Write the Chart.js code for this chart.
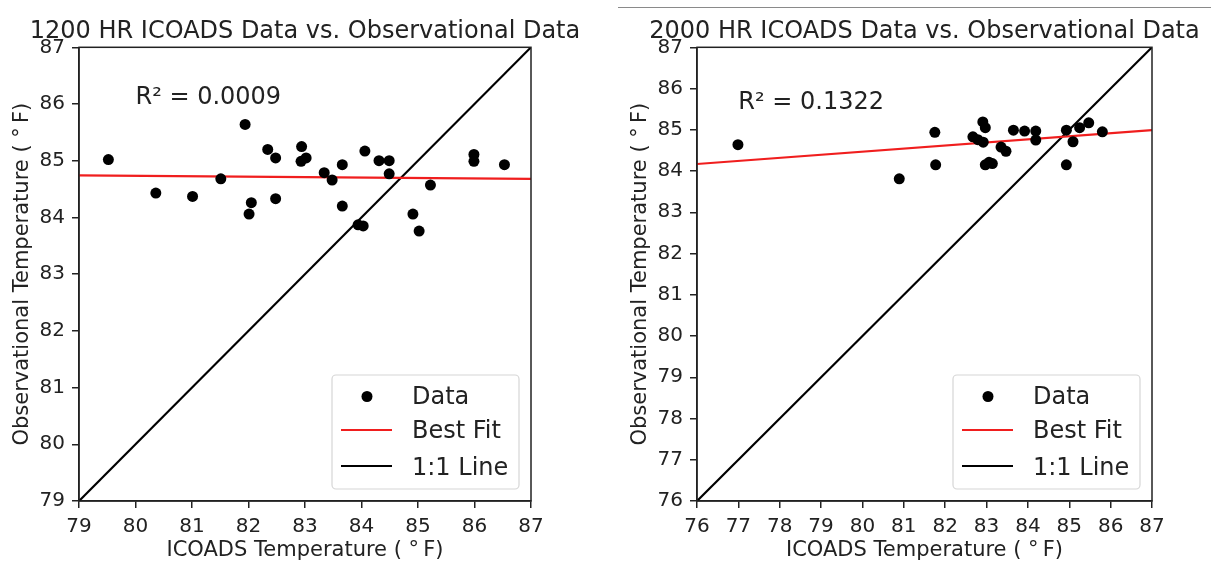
<!DOCTYPE html>
<html>
<head>
<meta charset="utf-8">
<script src="https://cdn.jsdelivr.net/npm/chart.js@4.4.0/dist/chart.umd.min.js"></script>
<style>
  body { margin: 0; width: 1211px; height: 573px; background: #fff; position: relative; overflow: hidden; }
  .panel { position: absolute; top: 0; height: 573px; }
  #left { left: 0; width: 610px; }
  #right { left: 610px; width: 601px; }
  .rule { position: absolute; left: 618px; top: 7px; width: 593px; border-top: 1.5px solid #8a8a8a; }
</style>
</head>
<body>
<div class="rule"></div>
<div class="panel" id="left"><canvas id="c1" width="610" height="573"></canvas></div>
<div class="panel" id="right"><canvas id="c2" width="601" height="573"></canvas></div>
<script>
// 1200 HR panel
const noonIcoads = [79.52, 80.36, 81.01, 81.51, 81.94, 82.01, 82.05, 82.34, 82.48, 82.48,
                    82.94, 82.93, 83.02, 83.34, 83.48, 83.66, 83.66, 84.06, 83.94, 84.03,
                    84.31, 84.49, 84.49, 84.91, 85.02, 85.22, 85.99, 85.99, 86.53];
const noonObs    = [85.02, 84.43, 84.37, 84.68, 85.64, 84.06, 84.26, 85.20, 85.05, 84.33,
                    85.25, 84.99, 85.05, 84.79, 84.66, 84.93, 84.20, 85.17, 83.87, 83.85,
                    85.00, 85.00, 84.77, 84.06, 83.76, 84.57, 85.11, 84.99, 84.93];
const noonFitX = [79, 87];
const noonFitY = [84.74, 84.68];
const noonR2 = 'R² = 0.0009';

// 2000 HR panel
const eveIcoads = [76.99, 80.89, 81.75, 81.77, 82.67, 82.79, 82.91, 82.97, 82.92, 82.97,
                   83.06, 83.14, 83.35, 83.47, 83.65, 83.92, 84.19, 84.19, 84.93, 84.93,
                   85.09, 85.25, 85.47, 85.80];
const eveObs    = [84.64, 83.81, 84.94, 84.15, 84.83, 84.76, 85.19, 85.05, 84.70, 84.15,
                   84.21, 84.18, 84.58, 84.48, 84.99, 84.97, 84.97, 84.75, 84.99, 84.15,
                   84.71, 85.05, 85.17, 84.95];
const eveFitX = [76, 87];
const eveFitY = [84.17, 84.99];
const eveR2 = 'R² = 0.1322';

const seriesNames = ['Data', 'Best Fit', '1:1 Line'];
const xTitle = 'ICOADS Temperature ( °\u2009F)';
const yTitle = 'Observational Temperature ( °\u2009F)';

const FONT = 'DejaVu Sans';
const INK = '#222';
Chart.defaults.font.family = FONT;
Chart.defaults.color = INK;

const zip = (xs, ys) => xs.map((x, i) => ({x: x, y: ys[i]}));

// box around the axes (matplotlib style spines)
const framePlugin = {
  id: 'frame',
  afterDraw(chart) {
    const a = chart.chartArea, ctx = chart.ctx;
    ctx.save();
    ctx.strokeStyle = INK;
    ctx.lineWidth = 1.5;
    ctx.strokeRect(a.left, a.top, a.right - a.left, a.bottom - a.top);
    ctx.restore();
  }
};

// title centred over the axes, R² note placed in data coordinates
const notePlugin = {
  id: 'note',
  afterDatasetsDraw(chart, args, opts) {
    const ctx = chart.ctx, a = chart.chartArea;
    ctx.save();
    ctx.font = '24px ' + FONT;
    ctx.fillStyle = INK;
    ctx.textBaseline = 'alphabetic';
    ctx.textAlign = 'center';
    ctx.fillText(opts.title, (a.left + a.right) / 2, 37.5);
    ctx.textAlign = 'left';
    ctx.fillText(opts.text, chart.scales.x.getPixelForValue(opts.at[0]), chart.scales.y.getPixelForValue(opts.at[1]));
    ctx.restore();
  }
};

// legend in the lower right of the axes
const boxLegend = {
  id: 'boxLegend',
  afterDraw(chart) {
    const ctx = chart.ctx, a = chart.chartArea;
    const w = 187, h = 114;
    const right = a.right - 12, bottom = a.bottom - 12;
    const left = right - w, top = bottom - h;
    ctx.save();
    ctx.fillStyle = 'rgba(255,255,255,0.85)';
    ctx.strokeStyle = '#d6d6d6';
    ctx.lineWidth = 1.2;
    ctx.beginPath();
    ctx.roundRect(left, top, w, h, 4);
    ctx.fill();
    ctx.stroke();
    const rowY = [21.5, 55, 91];
    const textY = [28.5, 63, 99.5];
    ctx.font = '24px ' + FONT;
    ctx.textBaseline = 'alphabetic';
    chart.data.datasets.forEach((ds, i) => {
      const y = top + rowY[i];
      if (ds.showLine) {
        ctx.strokeStyle = ds.borderColor;
        ctx.lineWidth = ds.borderWidth;
        ctx.beginPath();
        ctx.moveTo(left + 9, y);
        ctx.lineTo(left + 60, y);
        ctx.stroke();
      } else {
        ctx.fillStyle = ds.backgroundColor;
        ctx.beginPath();
        ctx.arc(left + 35, y, ds.pointRadius, 0, Math.PI * 2);
        ctx.fill();
      }
      ctx.fillStyle = INK;
      ctx.fillText(ds.label, left + 80, top + textY[i]);
    });
    ctx.restore();
  }
};

function axis(min, max, fit, title, titlePad) {
  return {
    type: 'linear',
    min: min,
    max: max,
    ticks: { stepSize: 1, color: INK, font: { size: 20 }, padding: 7, autoSkip: false, maxRotation: 0 },
    grid: { drawOnChartArea: false, drawTicks: true, tickLength: 7, color: INK, lineWidth: 1.5 },
    border: { color: INK, width: 1.5 },
    title: { display: true, text: title, color: INK, font: { size: 21 }, padding: titlePad },
    afterFit: fit
  };
}

function makeChart(id, o) {
  return new Chart(document.getElementById(id), {
    type: 'scatter',
    data: {
      datasets: [
        { label: seriesNames[0], data: zip(o.xs, o.ys), backgroundColor: '#000', borderColor: '#000',
          pointRadius: 5.5, pointHoverRadius: 5.5, borderWidth: 0 },
        { label: seriesNames[1], data: zip(o.fitX, o.fitY), showLine: true, borderColor: '#f01e1e',
          borderWidth: 2.2, pointRadius: 0 },
        { label: seriesNames[2], data: zip([o.min, o.max], [o.min, o.max]), showLine: true, borderColor: '#000',
          borderWidth: 2.2, pointRadius: 0 }
      ]
    },
    options: {
      responsive: false,
      animation: false,
      layout: { padding: { top: 47.3, right: o.padRight, left: 0, bottom: 0 } },
      plugins: {
        legend: { display: false },
        tooltip: { enabled: false },
        title: { display: false },
        note: { title: o.title, text: o.r2, at: o.r2At }
      },
      scales: {
        x: axis(o.min, o.max, s => { s.height = 72; }, xTitle, { top: 0, bottom: 10 }),
        y: axis(o.min, o.max, s => { s.width = o.yWidth; }, yTitle, { top: o.yTitlePad, bottom: 0 })
      }
    },
    plugins: [framePlugin, notePlugin, boxLegend]
  });
}

makeChart('c1', {
  title: '1200 HR ICOADS Data vs. Observational Data',
  xs: noonIcoads, ys: noonObs, fitX: noonFitX, fitY: noonFitY,
  min: 79, max: 87, r2: noonR2, r2At: [80, 86],
  yWidth: 79, padRight: 79, yTitlePad: 10
});
makeChart('c2', {
  title: '2000 HR ICOADS Data vs. Observational Data',
  xs: eveIcoads, ys: eveObs, fitX: eveFitX, fitY: eveFitY,
  min: 76, max: 87, r2: eveR2, r2At: [77, 85.5],
  yWidth: 87, padRight: 59, yTitlePad: 18
});
</script>
</body>
</html>
